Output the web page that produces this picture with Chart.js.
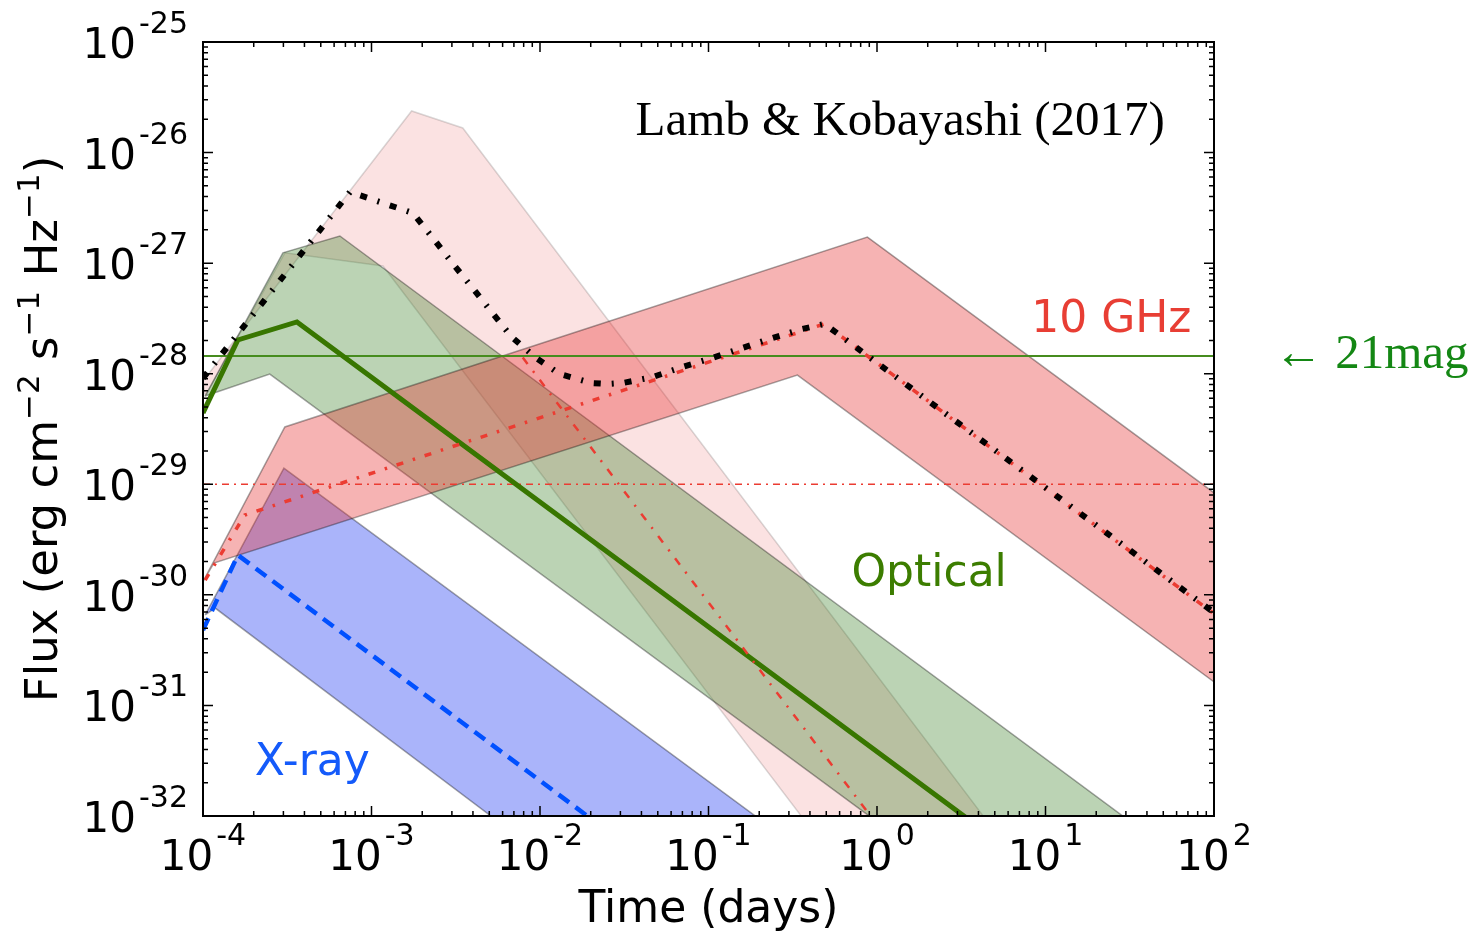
<!DOCTYPE html>
<html>
<head>
<meta charset="utf-8">
<title>Afterglow light curves</title>
<script src="https://cdn.jsdelivr.net/npm/chart.js@4.4.1/dist/chart.umd.min.js"></script>
<style>
  html, body { margin: 0; padding: 0; background: #fff; }
  #wrap { width: 1479px; height: 933px; position: relative; }
</style>
</head>
<body>
<div id="wrap"><canvas id="myChart"></canvas></div>
<script>
// time in days, flux in erg cm^-2 s^-1 Hz^-1
var timeRange = [1e-4, 1e2];
var fluxRange = [1e-32, 1e-25];
var timeExps = [-4, -3, -2, -1, 0, 1, 2];
var fluxExps = [-32, -31, -30, -29, -28, -27, -26, -25];

var mag21Flux = 1.445e-28;
var radioLimitFlux = 1e-29;

// bands are closed outlines: upper edge left->right, lower edge back
var xrayBand = [[1.03e-4, 6.58e-31], [3.02e-4, 1.40e-29], [1.47, 1e-33], [3.79e-2, 1e-33], [1.18e-4, 7.60e-31], [1.03e-4, 6.58e-31]];
var opticalBand = [[1.03e-4, 6.28e-29], [2.98e-4, 1.24e-27], [6.49e-4, 1.76e-27], [221, 1e-33], [6.98, 1e-33], [2.49e-4, 9.93e-29], [1.03e-4, 6.28e-29]];
var radioBand = [[1e-4, 1.32e-30], [3.06e-4, 3.30e-29], [0.877, 1.72e-27], [158, 5.02e-30], [158, 9.77e-32], [0.337, 9.72e-29], [1.16e-4, 1.94e-30], [1e-4, 1.32e-30]];
var reverseBand = [[1e-4, 8.59e-29], [1.73e-3, 2.38e-26], [3.48e-3, 1.67e-26], [13.4, 1e-33], [1.12, 1e-33], [1.17e-3, 9.42e-28], [3.06e-4, 1.24e-27], [1.03e-4, 6.28e-29], [1e-4, 8.59e-29]];

var xrayLine = [[1e-4, 4.81e-31], [1.61e-4, 2.29e-30], [0.1445, 1e-33]];
var opticalLine = [[1e-4, 4.42e-29], [1.61e-4, 2.02e-28], [3.61e-4, 2.94e-28], [25.2, 1e-33]];
var radioLine = [[1.03e-4, 1.36e-30], [1.77e-4, 5.27e-30], [0.488, 2.82e-28], [158, 4.02e-31]];
// only the part that leaves the black total curve is visible
var reverseLine = [[7.9e-3, 1.40e-28], [2.88, 1e-33]];
var totalRadio = [[1e-4, 9.14e-29], [7.45e-4, 4.40e-27], [1.76e-3, 2.84e-27], [2.31e-3, 1.69e-27], [2.99e-3, 1.02e-27],
    [3.94e-3, 6.08e-28], [5.16e-3, 3.61e-28], [6.79e-3, 2.15e-28], [9.29e-3, 1.42e-28], [1.31e-2, 9.93e-29],
    [2.02e-2, 8.24e-29], [2.52e-2, 8.07e-29], [3.09e-2, 8.24e-29], [4.66e-2, 9.33e-29], [7.01e-2, 1.15e-28],
    [0.1057, 1.39e-28], [0.159, 1.71e-28], [0.239, 2.10e-28], [0.360, 2.54e-28], [0.488, 2.82e-28], [100, 6.92e-31]];

var SANS = '"DejaVu Sans", "Bitstream Vera Sans", sans-serif';
var SERIF = '"Liberation Serif", "Times New Roman", serif';

function pts(arr){
    return arr.map(function(p){ return {x: p[0], y: p[1]}; });
}

function band(arr, fill, edge){
    return {data: pts(arr), fill: 'shape', backgroundColor: fill, borderColor: edge,
        borderWidth: 1.5, pointRadius: 0, tension: 0, clip: 0};
}

function curve(arr, color, width, dash){
    return {data: pts(arr), fill: false, borderColor: color, borderWidth: width,
        borderDash: dash || [], borderCapStyle: 'butt', pointRadius: 0, tension: 0, clip: 0};
}

function hline(f){
    return [[timeRange[0], f], [timeRange[1], f]];
}

// "10" with a raised exponent, like the matplotlib tick labels
function drawPower(ctx, exp, x, y, align){
    ctx.font = '42px ' + SANS;
    var wb = ctx.measureText('10').width;
    ctx.font = '30px ' + SANS;
    var ws = ctx.measureText(exp).width;
    var total = wb + 3 + ws;
    var left = align == 'center' ? x - total / 2 : x - total;
    ctx.font = '42px ' + SANS;
    ctx.fillText('10', left, y);
    ctx.font = '30px ' + SANS;
    ctx.fillText(exp, left + wb + 3, y - 25);
}

function drawRich(ctx, parts, x, y, size){
    var widths = parts.map(function(p){
        ctx.font = (p[1] ? '31px ' : size + 'px ') + SANS;
        return ctx.measureText(p[0]).width;
    });
    var total = widths.reduce(function(a, b){ return a + b; }, 0);
    var cx = x - total / 2;
    parts.forEach(function(p, i){
        ctx.font = (p[1] ? '31px ' : size + 'px ') + SANS;
        ctx.fillText(p[0], cx, p[1] ? y - 18 : y);
        cx += widths[i];
    });
}

var axesPlugin = {
    id: 'mplAxes',
    afterDraw: function(chart){
        var ctx = chart.ctx, a = chart.chartArea;
        var xs = chart.scales.x, ys = chart.scales.y;
        ctx.save();
        ctx.strokeStyle = '#000';
        ctx.fillStyle = '#000';
        ctx.lineWidth = 1.5;
        ctx.beginPath();
        timeExps.forEach(function(e, i){
            for (var m = 1; m < 10; m++) {
                if (m > 1 && i == timeExps.length - 1) break;
                var px = xs.getPixelForValue(m * Math.pow(10, e));
                var len = m == 1 ? 10 : 5;
                ctx.moveTo(px, a.bottom); ctx.lineTo(px, a.bottom - len);
                ctx.moveTo(px, a.top); ctx.lineTo(px, a.top + len);
            }
        });
        fluxExps.forEach(function(e, i){
            for (var m = 1; m < 10; m++) {
                if (m > 1 && i == fluxExps.length - 1) break;
                var py = ys.getPixelForValue(m * Math.pow(10, e));
                var len = m == 1 ? 10 : 5;
                ctx.moveTo(a.left, py); ctx.lineTo(a.left + len, py);
                ctx.moveTo(a.right, py); ctx.lineTo(a.right - len, py);
            }
        });
        ctx.stroke();
        ctx.lineWidth = 2;
        ctx.strokeRect(a.left, a.top, a.right - a.left, a.bottom - a.top);

        ctx.textBaseline = 'alphabetic';
        ctx.textAlign = 'left';
        timeExps.forEach(function(e){
            drawPower(ctx, String(e), xs.getPixelForValue(Math.pow(10, e)), a.bottom + 54, 'center');
        });
        fluxExps.forEach(function(e){
            drawPower(ctx, String(e), a.left - 15, ys.getPixelForValue(Math.pow(10, e)) + 16, 'right');
        });

        // axis titles
        drawRich(ctx, [['Time (days)', 0]], (a.left + a.right) / 2, a.bottom + 106, 44);
        ctx.save();
        ctx.translate(57, (a.top + a.bottom) / 2);
        ctx.rotate(-Math.PI / 2);
        drawRich(ctx, [['Flux (erg cm', 0], ['\u22122', 1], [' s', 0], ['\u22121', 1],
            [' Hz', 0], ['\u22121', 1], [')', 0]], 0, 0, 45);
        ctx.restore();

        // annotations, placed in data coordinates
        function note(text, t, f, color, font){
            ctx.font = font;
            ctx.fillStyle = color;
            ctx.fillText(text, xs.getPixelForValue(t), ys.getPixelForValue(f));
        }
        note('Lamb & Kobayashi (2017)', 3.69e-2, 1.44e-26, '#000', '49px ' + SERIF);
        note('10 GHz', 8.22, 2.38e-28, 'rgb(232,62,52)', '44px ' + SANS);
        note('Optical', 0.705, 1.20e-30, 'rgb(60,125,0)', '44px ' + SANS);
        note('X-ray', 2.03e-4, 2.35e-32, 'rgb(20,90,250)', '44px ' + SANS);
        note('\u2190 21mag', 227, 1.13e-28, 'rgb(20,135,20)', '49px ' + SERIF);
        ctx.restore();
    }
};

function initChart(){
    new Chart(document.getElementById('myChart'), {
        type: 'line',
        data: {
            datasets: [
                curve(totalRadio, '#000', 6, [7, 11, 2, 11]),
                curve(radioLine, 'rgb(235,60,50)', 3.5, [7, 10, 2.5, 10]),
                curve(reverseLine, 'rgb(235,60,50)', 2.5, [8, 9, 2, 9]),
                curve(opticalLine, 'rgb(56,118,0)', 5),
                curve(xrayLine, 'rgb(0,80,255)', 4.5, [13, 8]),
                curve(hline(mag21Flux), 'rgb(70,140,30)', 2),
                curve(hline(radioLimitFlux), 'rgb(235,60,50)', 1.5, [7, 5, 2, 5]),
                band(radioBand, 'rgba(230,50,50,0.37)', 'rgba(0,0,0,0.35)'),
                band(opticalBand, 'rgba(60,130,40,0.35)', 'rgba(0,0,0,0.35)'),
                band(reverseBand, 'rgba(230,50,50,0.14)', 'rgba(0,0,0,0.15)'),
                band(xrayBand, 'rgba(85,105,245,0.5)', 'rgba(0,0,0,0.35)')
            ]
        },
        options: {
            responsive: true,
            maintainAspectRatio: false,
            animation: false,
            events: [],
            layout: {
                padding: {left: 203, right: 265, top: 42, bottom: 117}
            },
            scales: {
                x: {type: 'logarithmic', min: timeRange[0], max: timeRange[1], display: false},
                y: {type: 'logarithmic', min: fluxRange[0], max: fluxRange[1], display: false}
            },
            plugins: {
                legend: {display: false},
                tooltip: {enabled: false}
            }
        },
        plugins: [axesPlugin]
    });
}

initChart();
</script>
</body>
</html>
